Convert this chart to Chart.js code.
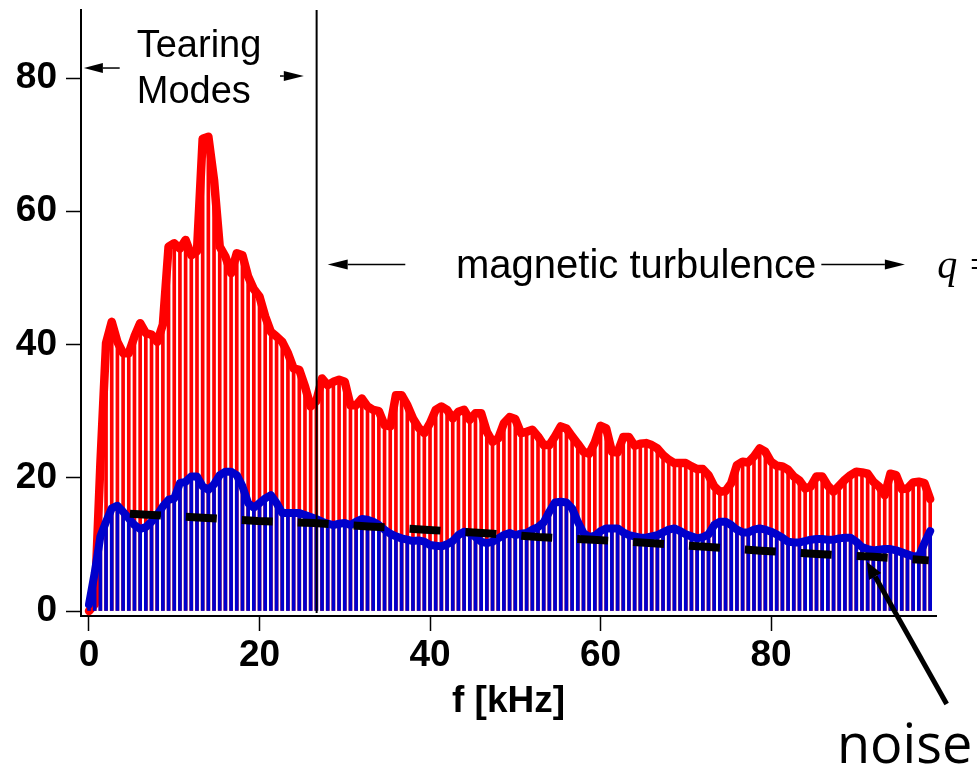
<!DOCTYPE html>
<html>
<head>
<meta charset="utf-8">
<script src="https://cdn.jsdelivr.net/npm/chart.js@4.4.1/dist/chart.umd.min.js"></script>
<style>
  html, body { margin: 0; padding: 0; background: #fff; }
  #wrap { width: 977px; height: 766px; }
</style>
</head>
<body>
<div id="wrap"><canvas id="c" width="977" height="766"></canvas></div>
<script>
// Fluctuation spectra: total (red) and high-q (blue), frequency bins of 2/3 kHz starting at 0
const binWidth = 2 / 3; // kHz

const totalSpectrum = [
  0, 1, 22, 40.2, 43.4, 40.4, 38.7, 38.7, 41.2, 43.2,
  41.7, 41.5, 40.4, 43, 54.7, 55.2, 54.4, 55.7, 53.4, 54,
  70.9, 71.2, 64.7, 54.7, 53.2, 50.7, 53.7, 53.4, 50.2, 48.3,
  47.2, 44.2, 41.9, 41.2, 40.4, 38.7, 36.4, 36.2, 33.7, 30.7,
  31.5, 34.9, 33.9, 34.4, 34.7, 34.4, 30.9, 30.9, 31.9, 30.7,
  30.2, 30.0, 27.9, 27.7, 32.4, 32.4, 30.9, 28.9, 27.5, 26.7,
  28.2, 30.2, 30.7, 30.2, 28.9, 29.9, 30.2, 28.7, 29.7, 29.7,
  26.9, 25.4, 25.9, 28.2, 29.1, 28.8, 26.7, 26.9, 27.2, 26.2,
  24.9, 24.9, 26.2, 27.7, 27.4, 26.2, 25.1, 23.9, 23.6, 25.3,
  27.8, 27.4, 23.9, 23.8, 26.1, 26.1, 24.8, 25.1, 25.2, 24.9,
  24.4, 23.4, 22.7, 22.2, 22.2, 22.2, 21.7, 21.3, 21.3, 20.4,
  18.7, 17.9, 18.0, 19.2, 21.9, 22.4, 22.3, 23.2, 24.4, 23.9,
  22.4, 21.8, 21.7, 21.2, 20.2, 19.6, 18.4, 18.7, 20.2, 20.2,
  18.8, 17.9, 18.8, 19.7, 20.4, 20.9, 20.8, 20.6, 19.4, 18.7,
  17.4, 20.6, 20.4, 18.3, 18.4, 19.3, 19.4, 19.2, 16.8
];

const highQSpectrum = [
  1, 5.7, 11.2, 13.4, 15.4, 15.8, 14.9, 13.9, 12.9, 12.3,
  12.6, 13.4, 14.4, 15.7, 16.7, 16.9, 19.2, 19.4, 20.2, 20.2,
  18.7, 18.2, 19.0, 20.4, 20.9, 20.9, 20.4, 18.7, 16.2, 15.5,
  16.2, 16.9, 17.4, 16.2, 14.7, 14.7, 14.7, 14.7, 14.4, 14.1,
  13.8, 13.4, 13.1, 12.9, 13.1, 13.2, 12.9, 13.4, 13.8, 13.7,
  13.4, 12.9, 12.2, 11.6, 11.2, 10.9, 10.7, 10.5, 10.6, 10.4,
  9.9, 9.8, 9.7, 10.0, 10.5, 11.4, 11.9, 11.7, 11.1, 10.4,
  10.2, 10.4, 10.9, 11.4, 11.7, 11.4, 11.6, 11.7, 12.2, 12.6,
  13.3, 14.9, 16.3, 16.4, 16.3, 15.4, 13.4, 11.7, 11.1, 11.3,
  12.0, 12.4, 12.4, 12.4, 11.8, 11.4, 11.2, 11.0, 11.0, 11.2,
  11.4, 11.8, 12.2, 12.4, 12.0, 11.5, 11.2, 10.9, 11.1, 11.5,
  12.9, 13.4, 13.4, 12.9, 12.2, 11.8, 11.8, 12.2, 12.4, 12.2,
  11.9, 11.5, 11.0, 10.4, 10.3, 10.3, 10.5, 10.7, 10.8, 10.8,
  10.7, 10.7, 10.9, 11.0, 11.0, 10.4, 9.6, 9.3, 9.1, 9.2,
  9.3, 9.3, 9.1, 8.8, 8.5, 8.2, 8.2, 10.2, 12.0
];

// Noise floor estimate
const noiseFreq  = [4.8, 13.3, 19.8, 26.4, 32.8, 39.4, 46.1, 52.7, 59.1, 65.7, 72.3, 78.8, 85.4, 92.0, 98.5];
const noiseLevel = [14.6, 14.0, 13.5, 13.2, 12.7, 12.2, 11.7, 11.1, 10.7, 10.2, 9.65, 9.05, 8.55, 8.15, 7.6];

// Boundary between tearing-mode band and turbulence band
const tearingEdge = 26.7; // kHz

const xTicks = [0, 20, 40, 60, 80];
const yTicks = [0, 20, 40, 60, 80];

const RED = '#ff0000';
const BLUE = '#0000cc';

const toPoints = (vals) => vals.map((v, i) => ({ x: i * binWidth, y: v }));
const redPts = toPoints(totalSpectrum);
const bluePts = toPoints(highQSpectrum);
const noisePts = noiseFreq.map((f, i) => ({ x: f, y: noiseLevel[i] }));

function arrow(ctx, x0, y0, x1, y1, w, headLen, headHalf) {
  const a = Math.atan2(y1 - y0, x1 - x0);
  const bx = x1 - headLen * Math.cos(a), by = y1 - headLen * Math.sin(a);
  ctx.lineWidth = w;
  ctx.beginPath(); ctx.moveTo(x0, y0); ctx.lineTo(bx, by); ctx.stroke();
  ctx.beginPath();
  ctx.moveTo(x1, y1);
  ctx.lineTo(bx + headHalf * Math.sin(a), by - headHalf * Math.cos(a));
  ctx.lineTo(bx - headHalf * Math.sin(a), by + headHalf * Math.cos(a));
  ctx.closePath(); ctx.fill();
}

const annotations = {
  id: 'annotations',
  afterDraw(chart) {
    const { ctx, scales: { x, y } } = chart;
    const px = (v) => x.getPixelForValue(v);
    const py = (v) => y.getPixelForValue(v);
    ctx.save();
    ctx.fillStyle = '#000';
    ctx.strokeStyle = '#000';
    ctx.textAlign = 'left';
    ctx.textBaseline = 'alphabetic';

    // Tearing mode band label
    ctx.font = '38px "Liberation Sans", Arial, sans-serif';
    ctx.fillText('Tearing', px(5.6), py(83.2));
    ctx.fillText('Modes', px(5.6), py(76.2));
    arrow(ctx, px(3.6), py(81.5), px(-0.6), py(81.5), 1.5, 19, 5);
    arrow(ctx, px(22.4), py(80.3), px(25.2), py(80.3), 1.5, 20, 5);

    // Turbulence band label
    ctx.font = '40px "Liberation Sans", Arial, sans-serif';
    ctx.fillText('magnetic turbulence', px(43.05), py(50.0));
    arrow(ctx, px(37.1), py(52.0), px(28.0), py(52.0), 1.5, 20, 5);
    arrow(ctx, px(85.9), py(52.0), px(95.7), py(52.0), 1.5, 20, 5);
    ctx.font = 'italic 40px "Liberation Serif", "Times New Roman", serif';
    ctx.fillText('q =', px(99.5), py(50.0));

    // Noise pointer
    arrow(ctx, px(100.6), py(-13.96), px(91.23), py(7.4), 5, 17, 7);
    ctx.font = '54px "Open Sans", sans-serif';
    ctx.fillText('noise', 837, 763);
    ctx.restore();
  }
};

// Keep the plot frame fixed: no extra room reserved for overhanging tick labels
const noLabelPadding = (s) => {
  s.paddingTop = 0; s.paddingBottom = 0; s.paddingLeft = 0; s.paddingRight = 0;
};

new Chart(document.getElementById('c'), {
  type: 'bar',
  data: {
    datasets: [
      {
        type: 'line', label: 'band edge', order: 0,
        data: [{ x: tearingEdge, y: -0.3 }, { x: tearingEdge, y: 90.2 }],
        borderColor: '#000', borderWidth: 2, pointRadius: 0, tension: 0, clip: false
      },
      {
        type: 'line', label: 'noise', order: 1,
        data: noisePts,
        borderColor: '#000', borderWidth: 8, borderDash: [31, 25], borderCapStyle: 'butt',
        pointRadius: 0, tension: 0
      },
      {
        type: 'line', label: 'high q', order: 2,
        data: bluePts,
        borderColor: BLUE, borderWidth: 8, borderJoinStyle: 'round', borderCapStyle: 'round',
        pointRadius: 0, tension: 0, clip: false
      },
      {
        type: 'bar', label: 'high q stems', order: 3,
        data: bluePts,
        backgroundColor: BLUE, barThickness: 3, grouped: false, borderWidth: 0
      },
      {
        type: 'line', label: 'total', order: 4,
        data: redPts,
        borderColor: RED, borderWidth: 8.5, borderJoinStyle: 'round', borderCapStyle: 'round',
        pointRadius: 0, tension: 0, clip: false
      },
      {
        type: 'bar', label: 'total stems', order: 5,
        data: redPts,
        backgroundColor: RED, barThickness: 3, grouped: false, borderWidth: 0
      }
    ]
  },
  options: {
    responsive: false,
    animation: false,
    devicePixelRatio: 1,
    layout: { padding: { top: 10, right: 41, left: 0, bottom: 0 } },
    plugins: { legend: { display: false }, tooltip: { enabled: false } },
    scales: {
      x: {
        type: 'linear',
        min: -0.938, max: 99.35,
        offset: false,
        afterBuildTicks: (s) => { s.ticks = xTicks.map((v) => ({ value: v })); },
        afterFit: (s) => { s.height = 150; noLabelPadding(s); },
        grid: { offset: false, drawOnChartArea: false, drawTicks: true, tickLength: 15, tickWidth: 1.5, tickColor: '#000' },
        border: { display: true, color: '#000', width: 2 },
        ticks: {
          color: '#000', padding: 3, maxRotation: 0,
          font: { family: '"Liberation Sans", Arial, sans-serif', size: 37, weight: 'bold' }
        },
        title: {
          display: true, text: 'f [kHz]', color: '#000',
          font: { family: '"Liberation Sans", Arial, sans-serif', size: 37, weight: 'bold' },
          padding: { top: 0, bottom: 42 }
        }
      },
      y: {
        type: 'linear',
        min: -0.75, max: 90.21,
        afterBuildTicks: (s) => { s.ticks = yTicks.map((v) => ({ value: v })); },
        afterFit: (s) => { s.width = 81; noLabelPadding(s); },
        grid: { drawOnChartArea: false, drawTicks: true, tickLength: 15, tickWidth: 1.5, tickColor: '#000' },
        border: { display: true, color: '#000', width: 2 },
        ticks: {
          color: '#000', padding: 9,
          font: { family: '"Liberation Sans", Arial, sans-serif', size: 37, weight: 'bold' }
        }
      }
    }
  },
  plugins: [annotations]
});
</script>
</body>
</html>
